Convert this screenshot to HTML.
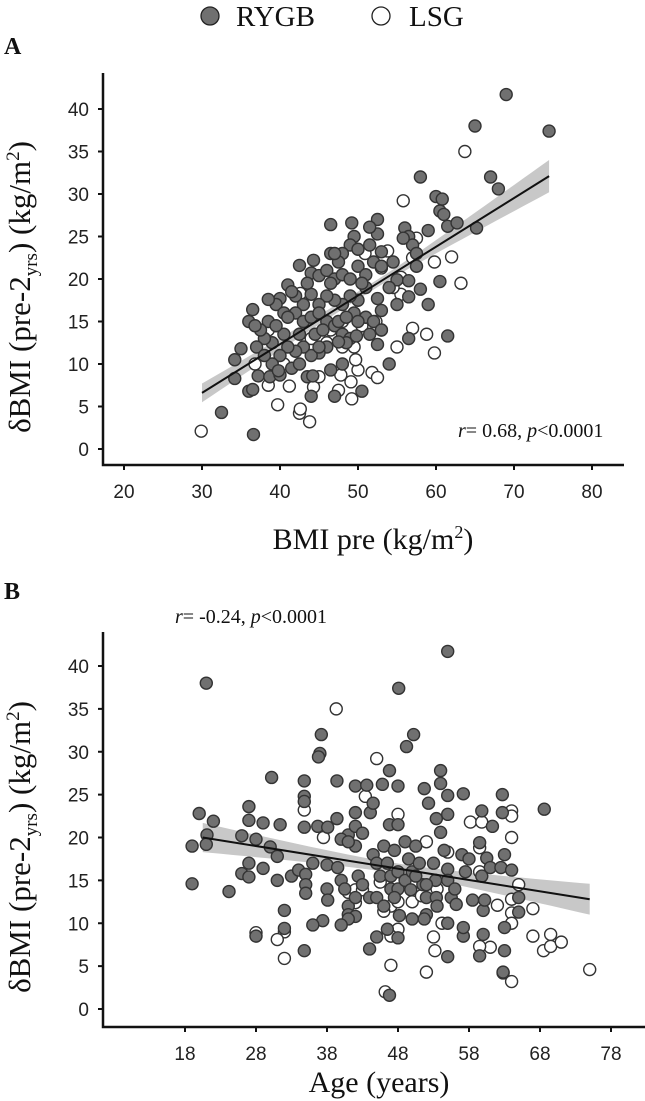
<!DOCTYPE html>
<html><head><meta charset="utf-8"><style>
body{margin:0;background:#fff;}
svg{display:block;}
.tk{font-family:"Liberation Sans",Arial,sans-serif;font-size:19px;fill:#222;}
.sf{font-family:"Liberation Serif","Times New Roman",serif;fill:#111;}
</style></head><body>
<svg id="chart" width="645" height="1101" viewBox="0 0 645 1101">
<g>
 <circle cx="210" cy="16" r="9" fill="#707070" stroke="#222" stroke-width="1.3"/>
 <text x="236" y="26" class="sf" font-size="29">RYGB</text>
 <circle cx="381" cy="16" r="9" fill="#fff" stroke="#222" stroke-width="1.3"/>
 <text x="409" y="26" class="sf" font-size="29">LSG</text>
</g>
<text x="4" y="54" class="sf" font-size="24" font-weight="bold">A</text>
<text x="4" y="599" class="sf" font-size="24" font-weight="bold">B</text>
</svg>
<script>
// Panel A data
const aXTicks=[20,30,40,50,60,70,80];
const aYTicks=[0,5,10,15,20,25,30,35,40];
const aRygb=[[69,41.7],[65,38],[74.5,37.4],[67,32],[68,30.6],[58,32],[60,29.7],[60.8,29.4],[60.5,28],[61,27.6],[61.5,26.2],[62.7,26.6],[65.2,26],[56,26],[56.5,25],[59,25.7],[57,24],[55.8,24.8],[57.5,23],[57.5,21.5],[58,18.8],[59,17],[60.5,19.7],[61.5,13.3],[56.5,13],[54,10],[55,17],[53,16.3],[52.5,17.7],[52.5,12.3],[55,19.9],[56.5,19.8],[56.5,17.9],[54.5,22],[53,23.2],[52.5,25.3],[52.5,27],[51.5,26.1],[49.2,26.6],[49.5,25],[49,24],[48,23],[47.5,22],[46.5,26.4],[46.5,23],[47,23],[44.3,22.2],[42.5,21.6],[44,20.7],[45,20.4],[46,21],[47,20],[48,20.5],[49,20],[50,21.5],[51,20.5],[52,22],[53,21.5],[54,19],[51,19],[50,17.5],[49,18],[48,17],[47,17.5],[46,18],[45,17],[44,18.2],[43,17],[42,18],[41,19.3],[41.5,18.5],[40,17.7],[39.5,17],[38.5,17.6],[40.5,16],[42,16],[43,15],[44,15.5],[45,16],[46,15],[47,14.5],[48,13.5],[49,13],[49.5,16],[51,15.5],[50,15],[52,15],[53,14],[51.5,13.5],[49.8,13.3],[48.5,12.5],[47.5,12.6],[46,12],[45,11.3],[44,11],[43,12],[42,11.5],[41,12],[40,11],[39,12.5],[38,13],[37,12],[38.5,15],[37.5,14],[36.5,16.4],[36,15],[36.8,14.5],[35,11.8],[34.2,10.5],[34.2,8.3],[36,6.8],[36.5,7],[32.5,4.3],[36.6,1.7],[37.2,8.6],[38.7,8.5],[39,10],[40,8.7],[41.5,9.5],[42.5,10],[43.5,8.5],[44,6.2],[44.2,8.6],[45,12],[46.5,9.3],[47,6.2],[48,10],[50.5,6.8],[47.5,15],[46.5,19.5],[43.5,19.5],[44.5,13.5],[48.5,15.5],[50.5,19.5],[51.5,24],[50,23.5],[45.5,14],[42.5,13.5],[40.5,13.5],[39.5,14.5],[41,15.5],[38,11],[39.8,9.2]];
const aLsg=[[29.9,2.1],[43.8,3.2],[42.5,4.2],[42.6,4.7],[39.7,5.2],[49.2,5.9],[38.5,7.5],[41.2,7.4],[44.3,7.3],[45,8.5],[47.5,6.9],[47.8,8.7],[49.1,7.9],[50,9.3],[51.8,9],[52.5,8.4],[49.7,10.5],[49.5,12],[48,12],[44.2,12.2],[46,12.5],[55,12],[57,14.2],[58.8,13.5],[59.8,11.3],[53,14],[52.3,15],[50.5,14.5],[46.5,14],[48,15],[55.5,18.2],[54.5,19],[55.5,20.2],[57,22.5],[57.5,24.8],[55.8,29.2],[59.8,22],[62,22.6],[63.2,19.5],[63.7,35],[50.9,23],[53.8,23.3],[53,21.3],[42.6,18.3],[36.8,10],[38.5,14],[40.5,10],[44,13]];
const aFitX=[30,74.5];
const aFitY=[6.6,32.1];
const aCiHalf=[1.1,0.45,1.9];
// Panel B data
const bXTicks=[18,28,38,48,58,68,78];
const bYTicks=[0,5,10,15,20,25,30,35,40];
const bRygb=[[21,38],[55,41.7],[48.1,37.4],[37.2,32],[50.2,32],[49.2,30.6],[37,29.8],[36.8,29.4],[30.2,27],[34.8,26.6],[39.4,26.6],[42,26],[43.6,26.1],[45.8,26.2],[48,26],[46.8,27.8],[51.7,25.7],[54,27.8],[54,26.3],[55,24.9],[57.2,25.1],[62.7,25],[34.8,24.8],[34.8,24.2],[42,22.9],[44.1,22.9],[44.5,24],[46.8,21.5],[48,21.5],[52.3,24],[53.4,22.2],[55,22.7],[59.8,23.1],[61.3,21.3],[62.7,22.9],[68.6,23.3],[20,22.8],[22,21.9],[27,23.6],[27,22],[29,21.7],[31.4,21.5],[34.8,21.2],[36.7,21.3],[38.1,21.2],[39.4,22.2],[41,20.3],[42,21.3],[42,19],[43,20.5],[40,19.8],[41,19.5],[26,20.2],[28,19.8],[30,18.9],[31,17.8],[21.1,20.3],[19,19],[21,19.2],[26,15.8],[27,17],[27,15.4],[29,16.4],[31,15],[33,15.5],[34,16.2],[35,15.7],[35,14.5],[35,13.5],[36,17],[38,16.8],[38,14],[38.1,12.7],[39.5,16.5],[40,15],[40.5,14],[41,12],[41,11],[42,13],[42.4,15.5],[43,14.5],[44,13],[44.5,18],[45,17],[45.5,15.5],[45,13],[46,19],[46.5,17],[47,15.5],[47,14],[47.5,18.5],[48,16],[48,14],[49,15],[49,19.5],[49.5,17.5],[50,16],[50.5,19],[51,17],[51.5,14.5],[52,13],[52,11],[53,17],[53.3,15],[53.4,13],[54,20.6],[54.5,18.5],[55,16.3],[55,15],[55.5,13],[56,14],[56.2,12.2],[57,18],[57.5,16],[58,17.5],[58.5,12.7],[59.5,19.4],[59.8,15.5],[60,11.5],[60.2,12.7],[60.5,17.6],[61,16.5],[62.5,16.5],[63,18],[64,16.2],[65,13],[65,11.3],[63,9.5],[63,6.8],[62.8,4.3],[60,8.7],[59.5,6.2],[57.2,8.5],[57.2,9.5],[55,10],[55,6.1],[53.5,12],[51.7,10.5],[50,10.5],[48.2,10.9],[48,8.3],[46.5,9.3],[45,8.4],[44,7],[46.8,1.6],[42,10.8],[41,10.5],[40,9.8],[37.4,10.3],[36,9.8],[34.8,6.8],[32,11.5],[32,9.4],[28,8.5],[24.2,13.7],[19,14.6],[49.8,13.9],[50.5,15.5],[52,14.5],[47.5,13],[46,12]];
const bLsg=[[39.3,35],[45,29.2],[48,22.7],[43.4,24.8],[34.8,23.2],[37.5,20],[58.2,21.8],[59.8,21.8],[64,23.1],[64,22.5],[64,20],[59.5,18.8],[59.5,16],[52,19.5],[65,14.5],[64,12.8],[64,11.2],[64,10],[67,11.7],[62,12.1],[61,7.2],[59.5,7.3],[67,8.5],[68.5,6.8],[69.5,8.7],[69.5,7.3],[71,7.8],[75,4.6],[64,3.2],[62.8,4.2],[52,4.3],[53,8.4],[53.2,6.8],[54.2,10],[46.2,2],[47,5.1],[48,9.3],[47,12],[47,8.5],[46,11.4],[45.5,14.8],[48,12.5],[50,12.5],[51.3,13.2],[41,13.6],[42,13.9],[42,12.4],[43,13.9],[32,9],[31,8.1],[32,5.9],[28,8.9],[55,18.3],[53.5,14]];
const bFitX=[20.5,75];
const bFitY=[20,12.8];
const bCiHalf=[1.7,0.6,1.8];

const NS="http://www.w3.org/2000/svg";
const svg=document.getElementById('chart');
function mk(tag,attrs,parent){const e=document.createElementNS(NS,tag);for(const k in attrs)e.setAttribute(k,attrs[k]);(parent||svg).appendChild(e);return e;}

function panel(p){
  const sx=v=>p.x0+(v-p.xt0)*p.pxX;
  const sy=v=>p.y0-v*p.pxY;
  const g=mk('g',{});
  
  
  const n=40,up=[],lo=[];
  const xm=(p.fx[0]+p.fx[1])/2;
  for(let i=0;i<=n;i++){
    const x=p.fx[0]+(p.fx[1]-p.fx[0])*i/n;
    const y=p.fy[0]+(p.fy[1]-p.fy[0])*i/n;
    const t=(x-xm)/((p.fx[1]-p.fx[0])/2);
    const endH=t<0?p.ci[0]:p.ci[2];
    const h=Math.sqrt(p.ci[1]*p.ci[1]+(endH*endH-p.ci[1]*p.ci[1])*t*t);
    up.push(sx(x)+','+sy(y+h));lo.unshift(sx(x)+','+sy(y-h));
  }
  const band=mk('polygon',{points:up.concat(lo).join(' '),fill:'#c8c8c8'},g);
  
  
  const pts=[[p.lsg,'#fff','lsg-point'],[p.rygb,'#707070','rygb-point']];
  pts.forEach(([arr,fill,nm])=>arr.forEach(d=>{
    const c=mk('circle',{cx:sx(d[0]),cy:sy(d[1]),r:6,fill:fill,stroke:'#333','stroke-width':1.4},g);
    
    
  }));
  const ln=mk('line',{x1:sx(p.fx[0]),y1:sy(p.fy[0]),x2:sx(p.fx[1]),y2:sy(p.fy[1]),stroke:'#111','stroke-width':2},g);
  
  
  const ax=mk('path',{d:`M${p.x0} ${p.top} V${p.axY} H${p.right}`,fill:'none',stroke:'#111','stroke-width':2.5},g);
  
  
  p.yt.forEach(v=>{
    mk('line',{x1:p.x0-5,x2:p.x0,y1:sy(v),y2:sy(v),stroke:'#111','stroke-width':2},g);
    const t=mk('text',{x:p.x0-14,y:sy(v)+7,'text-anchor':'end',class:'tk'},g);
    t.textContent=v;
    
    
  });
  p.xt.forEach(v=>{
    mk('line',{x1:sx(v),x2:sx(v),y1:p.axY,y2:p.axY+5,stroke:'#111','stroke-width':2},g);
    const t=mk('text',{x:sx(v),y:p.axY+33,'text-anchor':'middle',class:'tk'},g);
    t.textContent=v;
    
    
  });
  const yl=mk('text',{x:0,y:0,transform:`translate(30 ${p.ylY}) rotate(-90)`,'text-anchor':'middle',class:'sf','font-size':31},g);
  yl.innerHTML='δBMI (pre-2<tspan font-size="19" dy="7">yrs</tspan><tspan dy="-7">) (kg/m</tspan><tspan font-size="19" dy="-11">2</tspan><tspan dy="11">)</tspan>';
  
  
  const xl=mk('text',{x:p.xlX,y:p.xlY,'text-anchor':'middle',class:'sf','font-size':30},g);
  xl.innerHTML=p.xlab;
  
  
  const an=mk('text',{x:p.anX,y:p.anY,class:'sf','font-size':20},g);
  an.innerHTML=p.ann;
  
  
}
panel({name:'panel-a-scatter',x0:103,xt0:20-21/7.8,pxX:7.8,y0:449,pxY:8.5,top:73,axY:465,right:624,
  xt:aXTicks,yt:aYTicks,rygb:aRygb,lsg:aLsg,fx:aFitX,fy:aFitY,ci:aCiHalf,ylY:287,
  xlX:373,xlY:549,xlab:'BMI pre (kg/m<tspan font-size="18" dy="-11">2</tspan><tspan dy="11">)</tspan>',
  anX:458,anY:437,ann:'<tspan font-style="italic">r</tspan>= 0.68, <tspan font-style="italic">p</tspan>&lt;0.0001'});
panel({name:'panel-b-scatter',x0:103,xt0:18-82/7.1,pxX:7.1,y0:1009,pxY:8.575,top:632,axY:1027,right:645,
  xt:bXTicks,yt:bYTicks,rygb:bRygb,lsg:bLsg,fx:bFitX,fy:bFitY,ci:bCiHalf,ylY:847,
  xlX:379,xlY:1092,xlab:'Age (years)',
  anX:175,anY:623,ann:'<tspan font-style="italic">r</tspan>= -0.24, <tspan font-style="italic">p</tspan>&lt;0.0001'});
</script>
</body></html>
